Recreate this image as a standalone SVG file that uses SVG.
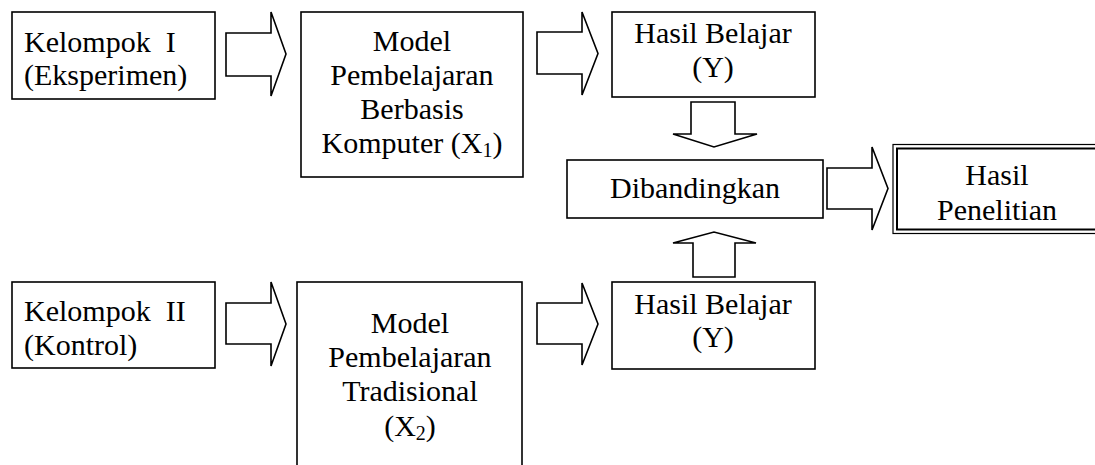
<svg xmlns="http://www.w3.org/2000/svg" width="1095" height="465" viewBox="0 0 1095 465">
<style>
.box{fill:#fff;stroke:#000;stroke-width:1.6}
.arr{fill:#fff;stroke:#000;stroke-width:1.6;stroke-linejoin:miter}
text{font-family:'Liberation Serif','Times New Roman',serif;font-size:30px;fill:#000}
.c{text-anchor:middle}
.sub{font-size:20px}
</style>
<rect width="1095" height="465" fill="#fff"/>
<g id="connectors">
<polygon class="arr" points="226,33 271,33 271,12 286,54 271,96 271,76 226,76"/>
<polygon class="arr" points="537,32 582,32 582,12 598,53.5 582,95 582,74 537,74"/>
<polygon class="arr" points="226,303 271,303 271,282 286,324 271,366 271,344 226,344"/>
<polygon class="arr" points="537,303 582,303 582,283 598,324 582,365 582,344 537,344"/>
<polygon class="arr" points="691,102 735,102 735,134 757,134 714,147 673,134 691,134"/>
<polygon class="arr" points="827,168 872,168 872,147 888,188.5 872,230 872,209 827,209"/>
<polygon class="arr" points="693,277 735,277 735,243 756,243 714,232 673,243 693,243"/>
</g>
<g id="kelompok1">
<rect class="box" x="12" y="12" width="203" height="87"/>
<text x="24" y="52" xml:space="preserve" style="white-space:pre">Kelompok  I</text>
<text x="24" y="85">(Eksperimen)</text>
</g>
<g id="model1">
<rect class="box" x="301" y="12" width="222" height="165"/>
<text class="c" x="412" y="51">Model</text>
<text class="c" x="412" y="85">Pembelajaran</text>
<text class="c" x="412" y="119">Berbasis</text>
<text class="c" x="412" y="153">Komputer (X<tspan class="sub" dy="4">1</tspan><tspan dy="-4">)</tspan></text>
</g>
<g id="hasil1">
<rect class="box" x="612" y="12" width="203" height="85"/>
<text class="c" x="713" y="43">Hasil Belajar</text>
<text class="c" x="713" y="77">(Y)</text>
</g>
<g id="dibandingkan">
<rect class="box" x="567" y="160" width="256" height="58"/>
<text class="c" x="695" y="198">Dibandingkan</text>
</g>
<g id="hasilpenelitian">
<rect fill="#fff" stroke="#000" stroke-width="1.2" x="893" y="144.5" width="220" height="89"/>
<rect fill="none" stroke="#000" stroke-width="2" x="897" y="148.5" width="220" height="81"/>
<text class="c" x="997" y="185">Hasil</text>
<text class="c" x="997" y="220">Penelitian</text>
</g>
<g id="kelompok2">
<rect class="box" x="12" y="282" width="203" height="86"/>
<text x="24" y="321" xml:space="preserve" style="white-space:pre">Kelompok  II</text>
<text x="24" y="355">(Kontrol)</text>
</g>
<g id="model2">
<rect class="box" x="297" y="282" width="225" height="200"/>
<text class="c" x="410" y="333">Model</text>
<text class="c" x="410" y="367">Pembelajaran</text>
<text class="c" x="410" y="401">Tradisional</text>
<text class="c" x="410" y="436">(X<tspan class="sub" dy="4">2</tspan><tspan dy="-4">)</tspan></text>
</g>
<g id="hasil2">
<rect class="box" x="612" y="282" width="203" height="87"/>
<text class="c" x="713" y="314">Hasil Belajar</text>
<text class="c" x="713" y="347">(Y)</text>
</g>
</svg>
